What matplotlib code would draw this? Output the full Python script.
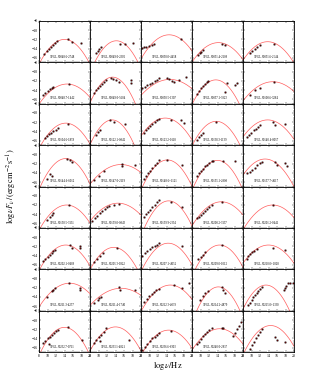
import numpy as np
import matplotlib
matplotlib.use("Agg")
import matplotlib.pyplot as plt
from matplotlib.ticker import MultipleLocator

plt.rcParams['font.family'] = ['Liberation Serif', 'DejaVu Serif']
plt.rcParams['mathtext.fontset'] = 'stix'

# source names, one per panel (row by row)
names = ["3FGL J0048.6-2748", "3FGL J0049.0-2302", "3FGL J0050.0-4458", "3FGL J0051.4-2109", "3FGL J0051.6-2544",
         "3FGL J0048.7-1442", "3FGL J0049.0-5604", "3FGL J0050.5-1307", "3FGL J0057.1-3823", "3FGL J0100.6-3284",
         "3FGL J0104.6-1859", "3FGL J0122.1-0842", "3FGL J0123.2-0118", "3FGL J0138.3-1139", "3FGL J0140.4-0057",
         "3FGL J0144.6-6012", "3FGL J0147.0-2119", "3FGL J0148.6+1121", "3FGL J0155.1-2808", "3FGL J0157.7-4617",
         "3FGL J0158.5-3131", "3FGL J0159.0-0843", "3FGL J0159.9-2334", "3FGL J0200.2-3137", "3FGL J0201.2-0441",
         "3FGL J0202.1-0489", "3FGL J0205.3-0922", "3FGL J0207.1-4052", "3FGL J0209.0-1012", "3FGL J0210.0+1828",
         "3FGL J0211.3-4257", "3FGL J0211.4-1740", "3FGL J0212.3-4039", "3FGL J0214.2-4879", "3FGL J0215.0+1330",
         "3FGL J0232.7-0711", "3FGL J0233.1-4821", "3FGL J0236.6-6303", "3FGL J0240.0-2837", ""]

# log-parabola fit: peak frequency, peak flux, curvature
peak_nu = [14.0, 14.2, 14.6, 14.2, 13.8,
           14.6, 13.3, 14.8, 13.6, 15.0,
           14.3, 13.2, 13.7, 13.7, 13.8,
           14.3, 15.3, 14.2, 14.0, 13.2,
           14.5, 14.6, 14.5, 14.9, 15.0,
           14.3, 13.6, 14.4, 14.5, 14.0,
           15.2, 15.3, 14.9, 14.2, 13.4,
           14.0, 14.0, 14.5, 14.5, 14.5]
peak_flux = [-12.0, -12.3, -11.0, -12.7, -12.5,
             -12.7, -11.2, -11.7, -11.8, -12.2,
             -12.2, -11.5, -11.1, -11.8, -11.5,
             -10.9, -12.2, -11.2, -11.3, -11.0,
             -12.0, -11.6, -11.1, -11.3, -12.0,
             -11.7, -12.2, -11.3, -11.7, -11.7,
             -11.0, -12.1, -11.4, -11.8, -11.4,
             -11.6, -11.5, -12.2, -11.9, -11.2]
curv = [0.15, 0.18, 0.12, 0.11, 0.12,
        0.10, 0.20, 0.075, 0.17, 0.085,
        0.14, 0.20, 0.12, 0.165, 0.11,
        0.17, 0.08, 0.17, 0.18, 0.13,
        0.13, 0.09, 0.18, 0.11, 0.11,
        0.14, 0.155, 0.15, 0.16, 0.11,
        0.10, 0.07, 0.12, 0.20, 0.18,
        0.17, 0.145, 0.13, 0.11, 0.15]

# observed points per panel
pts_x = [
    [9.2, 9.8, 10.3, 10.8, 11.3, 11.8, 12.2, 14.8, 15.7, 17.8],
    [9.4, 9.8, 10.2, 10.6, 15.0, 16.2, 18.2],
    [8.3, 8.8, 9.2, 9.9, 10.5, 11.1, 17.5],
    [9.4, 9.8, 10.2, 10.6, 15.1, 15.8],
    [9.6, 10.2, 10.8, 11.4, 12.0, 15.3],
    [8.9, 9.5, 10.0, 10.6, 11.0, 11.4, 15.1],
    [8.9, 9.4, 9.9, 10.3, 10.8, 11.2, 11.7, 12.9, 13.5, 14.2, 14.8, 17.6, 17.6],
    [8.3, 8.9, 9.5, 10.1, 10.7, 11.3, 11.8, 12.3, 14.1, 14.6, 15.2, 15.8, 17.0, 18.7],
    [9.1, 9.6, 10.1, 10.6, 11.1, 11.5, 11.8, 16.2, 15.8, 18.0, 18.7],
    [9.6, 10.8, 12.0, 15.3],
    [9.4, 9.9, 10.4, 10.9, 11.4, 11.9, 12.5, 14.8],
    [9.3, 9.8, 10.4, 12.7, 13.6, 16.2],
    [8.7, 9.2, 9.7, 10.2, 10.7, 11.2, 11.7, 12.2, 15.0, 17.4, 18.1],
    [9.1, 9.6, 10.1, 10.7, 13.7],
    [8.9, 9.4, 9.9, 10.5, 11.0, 11.5, 12.0, 15.0, 15.6, 17.9],
    [9.8, 10.6, 11.0, 14.5, 15.3, 15.7],
    [9.0, 10.1, 11.3, 15.5, 15.5, 18.5],
    [8.7, 9.2, 9.7, 10.2, 10.7, 11.2, 11.7, 12.2, 14.2, 17.7],
    [9.1, 9.6, 10.1, 10.6, 11.1, 11.6, 12.1, 12.6, 13.0, 15.4, 18.1],
    [8.9, 9.6, 10.2, 10.8, 11.4, 12.0, 12.4, 15.5, 15.9, 17.9, 18.3],
    [9.8, 10.6, 11.0, 11.4, 15.0],
    [8.5, 9.1, 9.7, 10.3, 10.9, 11.5, 12.0, 12.5, 13.6, 14.8],
    [8.7, 9.2, 9.7, 10.2, 10.7, 11.2, 11.7, 12.2, 15.0, 17.7],
    [9.1, 9.6, 10.1, 10.6, 11.1, 11.6, 12.1, 12.6, 15.0],
    [15.1],
    [9.0, 9.5, 10.0, 10.5, 11.0, 11.4, 11.8, 15.3, 15.7, 17.6, 17.6],
    [9.0, 9.6, 10.3, 11.0, 14.4],
    [8.3, 8.9, 9.5, 10.1, 10.7, 11.2, 11.7, 12.2, 17.7],
    [9.5, 10.0, 10.6, 11.1, 15.0],
    [8.9, 9.2, 9.7, 10.2, 10.7, 11.2, 15.1, 17.9],
    [9.8, 11.0, 11.4, 11.8, 15.0, 17.6, 17.6],
    [9.0, 9.8, 10.2, 10.6, 14.9, 15.0, 18.7],
    [8.7, 9.3, 9.9, 10.5, 11.0, 11.5, 12.2, 15.8, 17.7, 19.3],
    [9.9, 10.5, 11.1, 11.8, 15.0, 15.4, 15.8],
    [9.2, 9.6, 10.0, 10.4, 10.8, 11.2, 11.6, 12.0, 12.4, 17.7, 17.9, 18.1, 18.5, 19.1, 19.7],
    [9.0, 9.5, 10.0, 10.4, 10.5, 11.0, 11.5, 12.0, 12.5, 14.9, 18.0],
    [9.0, 9.5, 10.0, 10.3, 10.6, 11.2, 11.7, 17.1],
    [8.3, 8.9, 9.5, 10.1, 10.7, 11.2, 11.7, 12.2, 15.0],
    [9.1, 9.6, 10.1, 10.6, 11.1, 11.6, 12.1, 12.6, 15.0, 15.4, 17.6, 18.0, 18.5, 19.0, 19.6],
    [9.6, 10.1, 10.6, 11.1, 11.5, 12.0, 12.4, 15.5, 15.9, 17.9],
]
pts_y = [
    [-15.2, -14.5, -14.0, -13.6, -13.2, -12.7, -12.3, -12.0, -12.6, -12.7],
    [-15.0, -14.5, -14.1, -13.7, -13.1, -12.9, -12.8],
    [-13.9, -13.7, -13.6, -13.4, -13.2, -13.0, -11.9],
    [-15.4, -15.0, -14.7, -14.3, -12.9, -13.2],
    [-15.0, -14.5, -14.0, -13.6, -13.2, -13.0],
    [-15.1, -14.6, -14.2, -13.8, -13.5, -13.3, -12.7],
    [-14.7, -14.1, -13.6, -13.1, -12.6, -12.2, -11.8, -11.5, -11.6, -11.9, -12.2, -11.8, -12.5],
    [-13.6, -13.3, -13.0, -12.7, -12.4, -12.1, -11.8, -11.4, -11.4, -11.7, -12.0, -12.3, -11.8, -11.1],
    [-14.8, -14.2, -13.6, -13.1, -12.7, -12.3, -12.0, -12.5, -14.4, -12.9, -12.5],
    [-15.0, -14.0, -13.6, -12.2],
    [-15.4, -15.0, -14.6, -14.3, -13.9, -13.6, -13.3, -12.3],
    [-14.7, -14.1, -13.6, -11.6, -11.9, -12.3],
    [-14.3, -13.8, -13.3, -12.8, -12.4, -12.0, -11.6, -11.2, -11.5, -11.5, -12.2],
    [-15.8, -15.2, -14.8, -14.3, -11.9],
    [-15.3, -14.8, -14.3, -13.8, -13.4, -13.0, -12.7, -11.9, -12.6, -12.3],
    [-15.3, -14.3, -14.6, -10.9, -11.2, -11.6],
    [-15.5, -14.7, -13.7, -12.1, -12.6, -12.4],
    [-15.3, -14.7, -14.1, -13.5, -12.9, -12.4, -11.8, -11.2, -11.3, -12.2],
    [-14.6, -14.1, -13.6, -13.1, -12.6, -12.2, -11.8, -11.5, -11.4, -11.4, -11.4],
    [-14.1, -13.9, -13.4, -12.9, -12.4, -11.9, -11.6, -11.6, -12.3, -11.9, -12.6],
    [-15.3, -14.5, -14.1, -13.8, -12.0],
    [-15.5, -14.9, -14.3, -13.8, -13.3, -12.8, -12.5, -12.3, -11.9, -11.7],
    [-14.5, -14.0, -13.5, -13.0, -12.5, -12.0, -11.4, -10.9, -11.3, -12.5],
    [-14.9, -14.5, -14.1, -13.7, -13.3, -12.9, -12.5, -12.0, -11.3],
    [-12.0],
    [-15.2, -14.7, -14.2, -13.8, -13.4, -13.0, -12.7, -11.7, -12.4, -12.0, -12.4],
    [-15.3, -14.7, -14.1, -13.5, -12.4],
    [-14.0, -13.5, -13.0, -12.6, -12.2, -11.9, -11.6, -11.3, -12.0],
    [-14.8, -14.3, -13.8, -13.3, -11.7],
    [-14.7, -14.0, -13.6, -13.3, -12.9, -12.6, -12.4, -12.7],
    [-13.9, -12.8, -12.4, -12.1, -11.0, -12.1, -12.5],
    [-15.3, -14.6, -14.2, -13.9, -11.8, -12.5, -12.5],
    [-15.0, -14.4, -13.8, -13.3, -12.9, -12.5, -12.2, -11.4, -12.1, -11.0],
    [-14.6, -13.8, -13.1, -12.7, -11.8, -12.4, -13.1],
    [-15.8, -15.2, -14.7, -14.1, -13.6, -13.1, -12.6, -12.2, -11.8, -12.5, -12.0, -11.5, -11.0, -11.0, -10.9],
    [-14.9, -14.5, -14.0, -15.3, -13.6, -13.2, -12.8, -12.4, -12.1, -11.6, -14.3],
    [-15.0, -14.4, -13.8, -14.6, -13.2, -12.5, -11.8, -14.3],
    [-16.5, -15.8, -15.2, -14.6, -14.0, -13.6, -13.2, -12.9, -12.3],
    [-15.3, -14.7, -14.1, -13.5, -13.0, -12.5, -12.1, -11.7, -11.7, -11.8, -13.4, -12.8, -12.0, -11.3, -10.5],
    [-16.3, -15.5, -14.7, -13.9, -13.2, -12.6, -12.0, -13.7, -14.4, -14.8],
]

nrows, ncols = 8, 5
W, H = 316, 386
left, top = 39, 21
pw, ph = 51, 41.4

fig = plt.figure(figsize=(W / 100, H / 100), dpi=100)
nu = np.linspace(8, 20, 300)

for i in range(nrows * ncols):
    r, c = divmod(i, ncols)
    x0 = (left + c * pw) / W
    y0 = 1 - (top + (r + 1) * ph) / H
    ax = fig.add_axes([x0, y0, pw / W, ph / H])

    model = peak_flux[i] - curv[i] * (nu - peak_nu[i]) ** 2
    ax.plot(nu, model, color='#ff5c5c', lw=0.5, zorder=1)
    ax.plot(pts_x[i], pts_y[i], 's', ms=1.0, mfc='#5a0000', mec='black',
            mew=0.25, ls='none', zorder=2)

    ax.set_xlim(8, 20)
    ax.set_ylim(-17, -8)
    ax.xaxis.set_major_locator(MultipleLocator(2))
    ax.xaxis.set_minor_locator(MultipleLocator(0.5))
    ax.yaxis.set_major_locator(MultipleLocator(2))
    ax.yaxis.set_minor_locator(MultipleLocator(0.5))
    ax.tick_params(which='both', direction='in', top=True, right=True,
                   width=0.3, labelsize=2.8, pad=1)
    ax.tick_params(which='major', length=1.6)
    ax.tick_params(which='minor', length=0.8)
    for s in ax.spines.values():
        s.set_linewidth(0.6)
    if c != 0:
        ax.set_yticklabels([])
    if r != nrows - 1:
        ax.set_xticklabels([])
    if names[i]:
        ax.text(0.45, 0.08, names[i], transform=ax.transAxes,
                fontsize=2.2, ha='center', va='bottom')

fig.text(168 / W, 1 - 366 / H, r'$\log\nu/\mathrm{Hz}$', ha='center', va='center', fontsize=6)
fig.text(12 / W, 1 - 186 / H, r'$\log\nu F_{\nu}\,/(\mathrm{erg\,cm^{-2}\,s^{-1}})$',
         rotation=90, ha='center', va='center', fontsize=6)

fig.savefig('out.png', dpi=100)
